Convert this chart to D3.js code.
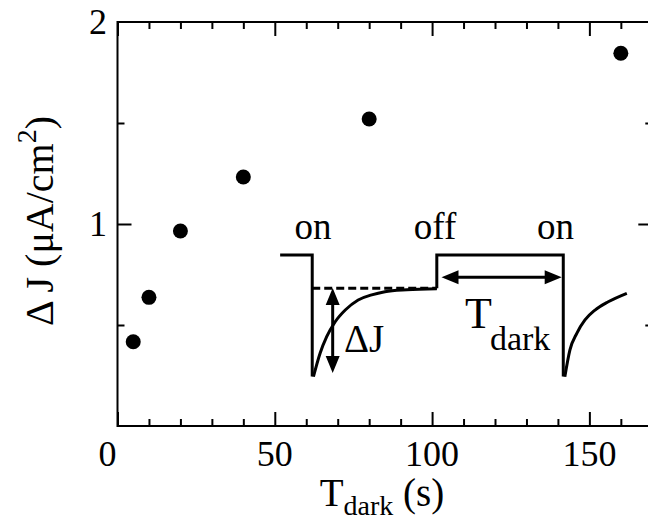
<!DOCTYPE html>
<html><head><meta charset="utf-8">
<script src="https://cdn.jsdelivr.net/npm/d3@7"></script>
<style>body{margin:0;background:#fff}svg{display:block}</style>
</head><body><svg id="c" width="648" height="526" font-family="'Liberation Serif', 'DejaVu Serif', serif"></svg>
<script>
// Data
const tDark = [5, 10, 20, 40, 80, 160];
const deltaJ = [0.417, 0.637, 0.965, 1.233, 1.52, 1.845];
const xMajor = [0, 50, 100, 150];
const xMinor = [10, 20, 30, 40, 60, 70, 80, 90, 110, 120, 130, 140, 160];
const yMajor = [1];
const yMinor = [0.5, 1.5];
const xLabels = ["0", "50", "100", "150"];
const yLabelVals = [1, 2];
const yLabels = ["1", "2"];
// Inset schematic (in axis units)
const insetStepX = [51.7, 61.9, 61.9];
const insetStepY = [0.847, 0.847, 0.245];
const insetStep2X = [101.5, 101.5, 141.7, 141.7];
const insetStep2Y = [0.682, 0.847, 0.847, 0.245];
const dashX = [61.9, 101.5];
const dashY = [0.682, 0.682];
const curve1X = [62.3, 64.4, 66.5, 69.2, 72.4, 76.5, 80.8, 85.0, 92.0, 101.5];
const curve1Y = [0.245, 0.36, 0.442, 0.516, 0.574, 0.624, 0.649, 0.665, 0.675, 0.68];
const curve2X = [142.2, 143.8, 146.0, 148.6, 151.8, 156.0, 161.9];
const curve2Y = [0.244, 0.376, 0.459, 0.525, 0.574, 0.615, 0.657];
const arrowV = {x: 68.4, y0: 0.683, y1: 0.262};
const arrowH = {y: 0.736, x0: 103.0, x1: 141.2};

const FONT = "'Liberation Serif', 'DejaVu Serif', serif";
const svg = d3.select("#c");
const x = d3.scaleLinear().domain([0, 170]).range([117.5, 652.3]);
const y = d3.scaleLinear().domain([0, 2]).range([426, 22]);

// frame
svg.append("rect").attr("x", x(0)).attr("y", y(2)).attr("width", x(170) - x(0)).attr("height", y(0) - y(2))
  .attr("fill", "none").attr("stroke", "#000").attr("stroke-width", 2);

function ticks(axisFn, scale, vals, size, tr) {
  const g = svg.append("g").attr("transform", tr).call(axisFn(scale).tickValues(vals).tickSize(size).tickFormat(""));
  g.select(".domain").remove();
  g.selectAll("line").attr("stroke", "#000").attr("stroke-width", 2);
}
ticks(d3.axisBottom, x, xMajor, -14, `translate(0,${y(0)})`);
ticks(d3.axisBottom, x, xMinor, -7, `translate(0,${y(0)})`);
ticks(d3.axisTop, x, xMajor, -14, `translate(0,${y(2)})`);
ticks(d3.axisTop, x, xMinor, -7, `translate(0,${y(2)})`);
ticks(d3.axisLeft, y, yMajor, -14, `translate(${x(0)},0)`);
ticks(d3.axisLeft, y, yMinor, -7, `translate(${x(0)},0)`);
ticks(d3.axisRight, y, yMajor, -14, `translate(${x(170)},0)`);
ticks(d3.axisRight, y, yMinor, -7, `translate(${x(170)},0)`);

function txt(xp, yp, size, anchor) {
  return svg.append("text").attr("x", xp).attr("y", yp).attr("font-size", size)
    .attr("font-family", FONT).attr("fill", "#000").attr("text-anchor", anchor || "start");
}
// tick labels
xMajor.forEach((d, i) => txt(x(d) - (i === 0 ? 10 : 0), 466, 36, "middle").text(xLabels[i]));
yLabelVals.forEach((d, i) => txt(107, y(d) + 12, 36, "end").text(yLabels[i]));

// axis titles
const xt = txt(382, 506, 39, "middle");
xt.append("tspan").text("T");
xt.append("tspan").attr("font-size", 28).attr("dy", 9).text("dark");
xt.append("tspan").attr("dy", -9).text(" (s)");

const yt = txt(0, 0, 40, "middle").attr("transform", "translate(53,221) rotate(-90)");
yt.append("tspan").text("Δ J (μA/cm");
yt.append("tspan").attr("font-size", 28).attr("dy", -17).text("2");
yt.append("tspan").attr("dy", 17).text(")");

// data points
svg.selectAll("circle.pt").data(tDark).enter().append("circle")
  .attr("cx", d => x(d)).attr("cy", (d, i) => y(deltaJ[i])).attr("r", 7.5).attr("fill", "#000");

// inset
const line = d3.line().x(d => x(d[0])).y(d => y(d[1]));
const smooth = d3.line().x(d => x(d[0])).y(d => y(d[1])).curve(d3.curveMonotoneX);
const ins = svg.append("g").attr("fill", "none").attr("stroke", "#000").attr("stroke-width", 3);
ins.append("path").attr("d", line(insetStepX.map((v, i) => [v, insetStepY[i]])));
ins.append("path").attr("d", line(insetStep2X.map((v, i) => [v, insetStep2Y[i]])));
ins.append("path").attr("d", line(dashX.map((v, i) => [v, dashY[i]]))).attr("stroke-dasharray", "8,4").attr("stroke-width", 3);
ins.append("path").attr("d", smooth(curve1X.map((v, i) => [v, curve1Y[i]])));
ins.append("path").attr("d", smooth(curve2X.map((v, i) => [v, curve2Y[i]])));

function arrowHead(px, py, dir) {
  const L = 17, W = 7;
  const bx = px - dir[0] * L, by = py - dir[1] * L;
  const nx = -dir[1], ny = dir[0];
  svg.append("path").attr("d", `M${px},${py}L${bx + nx * W},${by + ny * W}L${bx - nx * W},${by - ny * W}Z`).attr("fill", "#000");
}
ins.append("line").attr("x1", x(arrowV.x)).attr("x2", x(arrowV.x)).attr("y1", y(arrowV.y0) + 10).attr("y2", y(arrowV.y1) - 10);
arrowHead(x(arrowV.x), y(arrowV.y0), [0, -1]);
arrowHead(x(arrowV.x), y(arrowV.y1), [0, 1]);
ins.append("line").attr("x1", x(arrowH.x0) + 10).attr("x2", x(arrowH.x1) - 10).attr("y1", y(arrowH.y)).attr("y2", y(arrowH.y));
arrowHead(x(arrowH.x0), y(arrowH.y), [-1, 0]);
arrowHead(x(arrowH.x1), y(arrowH.y), [1, 0]);

// inset labels
txt(313, 239, 37, "middle").text("on");
txt(435, 239, 37, "middle").text("off");
txt(555.5, 239, 37, "middle").text("on");
txt(344, 352, 39).text("ΔJ");
const td = txt(465, 328, 44);
td.append("tspan").text("T");
td.append("tspan").attr("font-size", 34).attr("dy", 22).attr("dx", -2).text("dark");
</script></body></html>
